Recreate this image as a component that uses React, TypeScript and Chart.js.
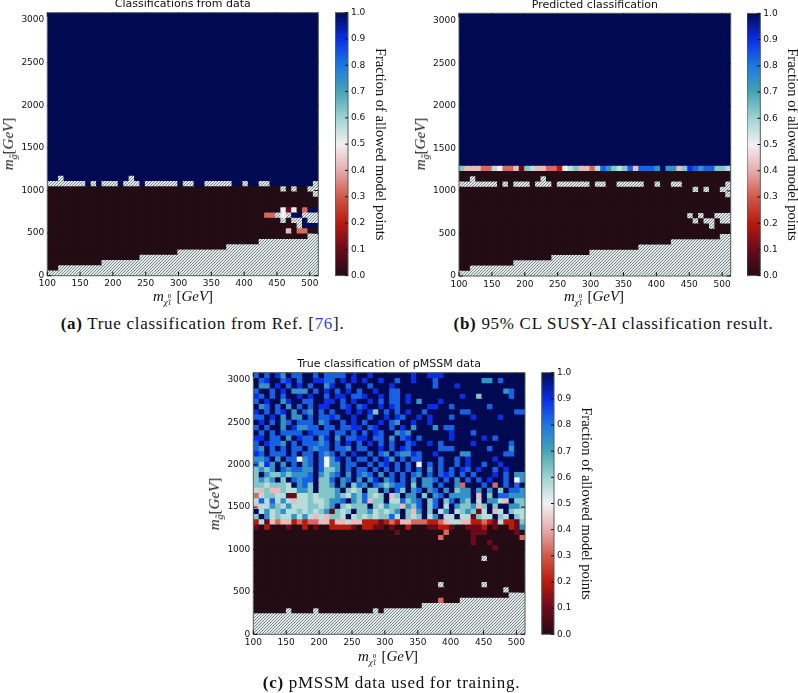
import React, { useEffect, useRef } from "react";
import { Chart, registerables } from "chart.js";

Chart.register(...registerables);

// ---- data: one string per row, bottom row first, 50 cells per row ----
// '.' = no model points (hatched); 0-9 = tenths of the allowed fraction; w = 0.5 (white); a = 1.0
const D = "0000000000";
const N = "aaaaaaaaaa";
const H = "..........";

const boundaryRows = [
  `${H}${H}${H}${H}${H}`,
  `00........${H}${H}${H}${H}`,
  `${D}${H}${H}${H}${H}`,
  `${D}0000000...${H}${H}${H}`,
  `${D}${D}0000......${H}${H}`,
  `${D}${D}${D}000.......${H}`,
  `${D}${D}${D}000000000.${H}`,
  `${D}${D}${D}${D}00000000..`,
];

const classifiedRows = [
  ...boundaryRows,
  `${D}${D}${D}${D}0000403300`,
  `${D}${D}${D}${D}000000.aaa`,
  `${D}${D}${D}${D}000.0..a..`,
  `${D}${D}${D}${D}33.w.aa...`,
  `${D}${D}${D}${D}000w1w03aa`,
  `${D}${D}${D}${D}${D}`,
  `${D}${D}${D}${D}${D}`,
  `${D}${D}${D}${D}000000000.`,
  `${D}${D}${D}${D}000.0.00..`,
  `.......a.a...a...a......a..aa.....aa.aa..aaaaaaaa.`,
  `aa.aaaaaaa${"aaaaa.aaaa"}${N}${N}${N}`,
  ...Array.from({ length: 31 }, () => `${N}${N}${N}${N}${N}`),
];

const predictedRows = [
  ...boundaryRows,
  `${D}${D}${D}${D}${D}`,
  `${D}${D}${D}${D}000000.000`,
  `${D}${D}${D}${D}000.0..0..`,
  `${D}${D}${D}${D}00.0.00...`,
  `${D}${D}${D}${D}${D}`,
  `${D}${D}${D}${D}${D}`,
  `${D}${D}${D}${D}${D}`,
  `${D}${D}${D}${D}000000000.`,
  `${D}${D}${D}${D}000.0.00..`,
  `.......0.0...0...0......0..00.....00.00..00000000.`,
  `00.0000000${"00000.0000"}${D}${D}${D}`,
  `${D}${D}${D}${D}${D}`,
  `6444335w33416544332w5644358765684888 7a774698788665`.replace(/ /g, ""),
  ...Array.from({ length: 29 }, () => `${N}${N}${N}${N}${N}`),
];

const trainingRows = [
  `${H}${H}${H}${H}${H}`,
  `${H}${H}${H}${H}${H}`,
  `${H}${H}${H}${H}${H}`,
  `${H}${H}${H}${H}${H}`,
  "000000.000 0.00000000 00.0...... .......... ..........",
  `${D}${D}${D}0.........${H}`,
  `${D}${D}${D}00003000..${H}`,
  `${D}${D}${D}${D}0000000...`,
  `${D}${D}${D}${D}000000.000`,
  `${D}${D}${D}0000.00000 00.0000000`,
  `${D}${D}${D}${D}${D}`,
  `${D}${D}${D}${D}${D}`,
  `${D}${D}${D}${D}${D}`,
  `${D}${D}${D}${D}${D}`,
  `${D}${D}${D}${D}00.0000000`,
  `${D}${D}${D}${D}${D}`,
  `${D}${D}${D}${D}0000100000`,
  `${D}${D}${D}${D}1001000000`,
  `${D}${D}${D}0000300000 1000000003`,
  `${D}${D}0000001000 0000030000 1110000010`,
  "1020001002 0100222210 2211010020 0011221001 1120100217",
  "2514344232 3344244544 2221232443 3322345544 2232152216",
  "6a75655757 5454665a56 5656685a65 6a57a55a55 1655a65a65",
  "a575675565 65671656a6 6756567a64 7a6a57a567 615a45a655",
  "4557657555 66567a6566 6a65766476 8a68a5a766 746a6aa776",
  "5858575455 6556778a76 8466a55867 8a68a68a76 a5a7754a66",
  "3566551155 6566676576 8656a46a77 a6a78a7777 a4a6a88777",
  "5464465577 6a6667a656 a66a7a86a7 8a78a7a677 a7a7a6a887",
  "6656665a78 6a667a7a68 7a876788a6 a77a8aa73a aa8a3a8a8a",
  "6767a6a878 8a668a78a7 a79a78a8a7 a778a8a7a8 a8a9aa8aw7",
  "6a76676777 8a7678a7a8 78a7a8a8a8 7a8a898a8a 8aaa9a8a77",
  "6767a87887 7a8667a8a8 8a8a8a8a8a 8a7a8a8a98 a9aa8a9aaa",
  "8697a7a8a7 8a8w77a88a a8a89a8a8a wa8a8aa8a9 aa8aa9aaaa",
  "778a7a88w7 8a8w79a8a8 8a8a97a8a8 8aaa8aa8a9 aaaa9aaaaa",
  "98a888a8a8 8a878a8a9a a8a87a8779 8aa9aaaa77 aaaaaa88aa",
  "87a8a8a88a 8788a887a8 8aa9a8a98a aaaa888aaa aaa8aaa7aa",
  "8a9887a8a8 8878a8a9a8 a9a8a8aa89 aa9a8aaaaa 9aaaaaa8aa",
  "99a88a7a98 8a79a7a889 9a88a7a89a 8aaaaa9aaa aa9a8aaaaa",
  "a8a8a8888a 9888a88a8a 8a98aa787a aaaaaa9aaa 8aaaaaaaaa",
  "8a8aa7a977 88a88a8899 a89aa8a9a7 aaa7a88aaa aaaaaaaaaa",
  "a9a8a78a88 8a78aa8a9a 8aa9a87aa9 aa9aaaaaaa aaaaaaaaaa",
  "88a9a7a77a 8a8898aa9a a8aa9a98aa 9a9aaa8aaa 9aaaa9aaaa",
  "9a8a89a7a8 7a8a8aa9a9 a96a8a8a9a a8aaaaaa88 aaaaaaaa88",
  "a78a8a7a8a 8a99aa89a8 9aa9a98aaa aa99aa8aaa aaa8aaaaaa",
  "8a9aa79aa8 8aa99a8a9a a9a8a88a9a 7aaa9aaaaa aaaaaaaaaa",
  "98a8a8aa9a 9aa8a99a88 9aa9a88a9a aaaaaaaa9a a6aaaaa8aa",
  "8aa8a9a777 a8a9a8a9a8 aa9aa88aaa aaaaaaaaaa aaaaaa78aa",
  "a77a9a8a9a 8aa79aa8aa a8aaa9aaaa aaa8aaa9aa aaaaaaaaaa",
  "a89aa89a8a a9988a9a9a 9aa9aa8aa9 aaa8aaaaaa aa77a8aaaa",
  "8a8a97a88a a8a8888a9a a9aaaaaaa9 aa999aaaaa aaaaaaaaaa",
].map((r) => r.replace(/ /g, ""));

const cellLevels: Record<string, number> = {
  "0": 0, "1": 0.1, "2": 0.2, "3": 0.32, "4": 0.42, "5": 0.57, w: 0.5,
  "6": 0.63, "7": 0.74, "8": 0.83, "9": 0.9, a: 1,
};

const colorStops: [number, string][] = [
  [0.0, "#230c14"], [0.1, "#6a0a1c"], [0.2, "#b81a0c"], [0.3, "#d2584a"],
  [0.4, "#e4adad"], [0.5, "#f3eff3"], [0.6, "#9ed4d0"], [0.7, "#45a4b4"],
  [0.8, "#1c78e0"], [0.9, "#0a2ee6"], [1.0, "#000a52"],
];

const xTickValues = [100, 150, 200, 250, 300, 350, 400, 450, 500];
const yTickValues = [0, 500, 1000, 1500, 2000, 2500, 3000];
const barTickStep = 0.1;
const xFirst = 100;
const cellGeVX = 8.26;
const cellGeVY = 61.72;
const colCount = 50;
const rowCount = 50;

// ---- layout ----
const TICK_FONT = "'DejaVu Sans', sans-serif";
const SERIF = "'Liberation Serif', serif";

function hexToRgb(h: string) {
  return [1, 3, 5].map((i) => parseInt(h.slice(i, i + 2), 16));
}
function colormap(v: number) {
  for (let i = 1; i < colorStops.length; i++) {
    if (v <= colorStops[i][0]) {
      const [a, ca] = colorStops[i - 1];
      const [b, cb] = colorStops[i];
      const t = (v - a) / (b - a);
      const p = hexToRgb(ca), q = hexToRgb(cb);
      return `rgb(${p.map((x, k) => Math.round(x + (q[k] - x) * t)).join(",")})`;
    }
  }
  return colorStops[colorStops.length - 1][1];
}

function hatchPattern(): CanvasPattern {
  const c = document.createElement("canvas");
  c.width = 3;
  c.height = 3;
  const g = c.getContext("2d")!;
  g.fillStyle = "#e4e9e9";
  g.fillRect(0, 0, 3, 3);
  g.fillStyle = "#78888c";
  for (let i = 0; i < 3; i++) g.fillRect(i, 2 - i, 1, 1);
  return g.createPattern(c, "repeat")!;
}

const FRAME = "#505a5c";

function framePlugin(sides: { x: boolean; left: boolean; right: boolean }, len: number) {
  return {
    id: "frameTicks",
    afterDatasetsDraw(chart: any) {
      const { ctx, chartArea: a, scales } = chart;
      ctx.save();
      ctx.strokeStyle = FRAME;
      ctx.lineWidth = 1;
      ctx.strokeRect(a.left, a.top, a.right - a.left, a.bottom - a.top);
      ctx.strokeStyle = "#111";
      ctx.beginPath();
      if (sides.x) {
        for (const t of scales.x.ticks) {
          const p = scales.x.getPixelForValue(t.value);
          ctx.moveTo(p, a.bottom);
          ctx.lineTo(p, a.bottom - len);
          ctx.moveTo(p, a.top);
          ctx.lineTo(p, a.top + len);
        }
      }
      for (const t of scales.y.ticks) {
        const p = scales.y.getPixelForValue(t.value);
        if (sides.left) {
          ctx.moveTo(a.left, p);
          ctx.lineTo(a.left + len, p);
        }
        if (sides.right) {
          ctx.moveTo(a.right, p);
          ctx.lineTo(a.right - len, p);
        }
      }
      ctx.stroke();
      ctx.restore();
    },
  };
}

type PanelProps = {
  title: string;
  rows: string[];
  plot: { l: number; t: number; r: number; b: number };
  bar: { l: number; r: number };
};

const HEAT_LEFT = 48;
const HEAT_TOP = 14;
const HEAT_RIGHT = 12;
const HEAT_BOTTOM = 16;
const BAR_OUT = 8;
const BAR_RIGHT = 40.5;
const TITLE_SIZE = 11;

function Panel({ title, rows, plot, bar }: PanelProps) {
  const heatRef = useRef<HTMLCanvasElement>(null);
  const barRef = useRef<HTMLCanvasElement>(null);

  const x0 = Math.floor(plot.l - HEAT_LEFT);
  const y0 = Math.floor(plot.t - HEAT_TOP);
  const w = Math.ceil(plot.r - x0 + HEAT_RIGHT);
  const h = Math.ceil(plot.b - y0 + HEAT_BOTTOM);

  const bx0 = Math.floor(bar.l);
  const by0 = Math.floor(plot.t - BAR_OUT);
  const bw = Math.ceil(bar.r - bx0 + BAR_RIGHT);
  const bh = Math.ceil(plot.b - by0 + BAR_OUT);

  useEffect(() => {
    const pattern = hatchPattern();
    const data: any[] = [];
    const colors: any[] = [];
    // Each cell reaches about 1.2px past its right and upper edge and is overdrawn by its
    // neighbour, so anti-aliased cell edges cannot let the white page through.
    const pxPerGeVX = (plot.r - plot.l) / (colCount * cellGeVX);
    const pxPerGeVY = (plot.b - plot.t) / (rowCount * cellGeVY);
    const overlapPx = 1.2;
    const xShift = overlapPx / 2 / pxPerGeVX;
    const yExtra = overlapPx / pxPerGeVY;
    for (let r = 0; r < rowCount; r++) {
      for (let c = 0; c < colCount; c++) {
        const ch = rows[r][c] ?? ".";
        data.push({
          x: xFirst + (c + 0.5) * cellGeVX + xShift,
          y: [r * cellGeVY, (r + 1) * cellGeVY + yExtra],
        });
        colors.push(ch === "." ? pattern : colormap(cellLevels[ch]));
      }
    }
    const barScale = ((plot.r - plot.l) / colCount + overlapPx) / ((plot.r - plot.l) / colCount);
    const titleLine = TITLE_SIZE * 1.2;
    const heat = new Chart(heatRef.current!, {
      type: "bar",
      data: { datasets: [{ data, backgroundColor: colors, borderWidth: 0, barPercentage: barScale, categoryPercentage: 1, grouped: false, inflateAmount: 0 } as any] },
      plugins: [framePlugin({ x: true, left: true, right: true }, 4) as any],
      options: {
        animation: false,
        responsive: false,
        events: [],
        layout: { padding: { left: 0, top: 0, right: x0 + w - plot.r, bottom: 0 } },
        plugins: {
          legend: { display: false },
          tooltip: { enabled: false },
          title: {
            display: true,
            text: title,
            fullSize: false,
            color: "#111",
            font: { family: TICK_FONT, size: TITLE_SIZE, weight: "normal", lineHeight: 1.2 },
            padding: { top: 0, bottom: plot.t - y0 - titleLine },
          } as any,
        },
        scales: {
          x: {
            type: "linear",
            offset: false,
            min: xFirst,
            max: xFirst + colCount * cellGeVX,
            grid: { display: false, drawTicks: false },
            border: { display: false },
            afterBuildTicks: (s: any) => { s.ticks = xTickValues.map((value) => ({ value })); },
            afterFit: (s: any) => { s.height = y0 + h - plot.b; },
            ticks: { autoSkip: false, maxRotation: 0, padding: 3, color: "#111", font: { family: TICK_FONT, size: 9 }, callback: (v: any) => String(v) },
          },
          y: {
            type: "linear",
            min: 0,
            max: rowCount * cellGeVY,
            grid: { display: false, drawTicks: false },
            border: { display: false },
            afterBuildTicks: (s: any) => { s.ticks = yTickValues.map((value) => ({ value })); },
            afterFit: (s: any) => { s.width = plot.l - x0; },
            ticks: { autoSkip: false, padding: 3, color: "#111", font: { family: TICK_FONT, size: 9 }, callback: (v: any) => String(v) },
          },
        },
      } as any,
    });

    const cb = new Chart(barRef.current!, {
      type: "bar",
      data: {
        labels: ["fraction"],
        datasets: [{
          data: [[0, 1]],
          barPercentage: 1,
          categoryPercentage: 1,
          borderWidth: 0,
          backgroundColor: (ctx: any) => {
            const a = ctx.chart.chartArea;
            if (!a) return colorStops[0][1];
            const g = ctx.chart.ctx.createLinearGradient(0, a.bottom, 0, a.top);
            colorStops.forEach(([p, col]) => g.addColorStop(p, col));
            return g;
          },
        } as any],
      },
      plugins: [framePlugin({ x: false, left: false, right: true }, 3) as any],
      options: {
        animation: false,
        responsive: false,
        events: [],
        layout: { padding: { left: bar.l - bx0, top: plot.t - by0, right: 0, bottom: by0 + bh - plot.b } },
        plugins: { legend: { display: false }, tooltip: { enabled: false } },
        scales: {
          x: { type: "category", display: false, offset: true },
          y: {
            type: "linear",
            position: "right",
            min: 0,
            max: 1,
            grid: { display: false, drawTicks: false },
            border: { display: false },
            afterFit: (s: any) => { s.width = bw - (bar.r - bx0); },
            title: {
              display: true,
              text: "Fraction of allowed model points",
              color: "#111",
              padding: 0,
              font: { family: SERIF, size: 14.5, lineHeight: 1.2 },
            },
            ticks: { stepSize: barTickStep, autoSkip: false, padding: 3, color: "#111", font: { family: TICK_FONT, size: 9 }, callback: (v: any) => Number(v).toFixed(1) },
          },
        },
      } as any,
    });
    return () => { heat.destroy(); cb.destroy(); };
  }, []);

  return (
    <>
      <canvas ref={heatRef} width={w} height={h} style={{ position: "absolute", left: x0, top: y0, width: w, height: h }} />
      <canvas ref={barRef} width={bw} height={bh} style={{ position: "absolute", left: bx0, top: by0, width: bw, height: bh }} />
    </>
  );
}

const mathBase: React.CSSProperties = { position: "absolute", fontFamily: SERIF, fontSize: 15, color: "#111", whiteSpace: "nowrap", lineHeight: "18px" };
const smallSub: React.CSSProperties = { fontSize: 10, fontStyle: "italic", position: "relative", top: 4 };

function GluinoLabel({ cx, cy }: { cx: number; cy: number }) {
  return (
    <div style={{ ...mathBase, left: cx, top: cy, transform: "translate(-50%,-50%) rotate(-90deg)" }}>
      <i>m</i><span style={smallSub}>{"g\u0303"}</span>[<i>GeV</i>]
    </div>
  );
}

function NeutralinoLabel({ cx, cy }: { cx: number; cy: number }) {
  return (
    <div style={{ ...mathBase, left: cx, top: cy, transform: "translate(-50%,-50%)" }}>
      <i>m</i>
      <span style={{ ...smallSub, fontSize: 9, top: 4 }}>{"\u03c7\u0303"}</span>
      <span style={{ display: "inline-block", position: "relative", width: 5, height: 14, verticalAlign: "middle" }}>
        <span style={{ position: "absolute", left: 0, top: 1, fontSize: 7, lineHeight: "8px" }}>0</span>
        <span style={{ position: "absolute", left: 0, top: 8, fontSize: 7, lineHeight: "8px" }}>1</span>
      </span>
      {" "}[<i>GeV</i>]
    </div>
  );
}

const capStyle: React.CSSProperties = { position: "absolute", fontFamily: SERIF, fontSize: 17, letterSpacing: 0.7, color: "#111", whiteSpace: "nowrap", transform: "translate(-50%,-50%)", lineHeight: "18px" };

export default function App() {
  return (
    <div style={{ position: "fixed", left: 0, top: 0, width: 798, height: 693, background: "#fff", overflow: "hidden", filter: "blur(0.35px)" }}>
      <Panel title="Classifications from data" rows={classifiedRows} plot={{ l: 47.3, t: 12.7, r: 318.3, b: 275.7 }} bar={{ l: 335.3, r: 348 }} />
      <Panel title="Predicted classification" rows={predictedRows} plot={{ l: 459, t: 13.3, r: 730.7, b: 276 }} bar={{ l: 747, r: 760.3 }} />
      <Panel title="True classification of pMSSM data" rows={trainingRows} plot={{ l: 253.3, t: 372.7, r: 525, b: 634.3 }} bar={{ l: 541.7, r: 554 }} />

      <GluinoLabel cx={9} cy={144} />
      <GluinoLabel cx={421} cy={144} />
      <GluinoLabel cx={215} cy={504} />
      <NeutralinoLabel cx={183} cy={297} />
      <NeutralinoLabel cx={594} cy={297} />
      <NeutralinoLabel cx={388} cy={657} />

      <div style={{ ...capStyle, left: 202.5, top: 324 }}><b>(a)</b> True classification from Ref. [<span style={{ color: "#3344cc" }}>76</span>].</div>
      <div style={{ ...capStyle, left: 613.5, top: 324 }}><b>(b)</b> 95% CL SUSY-AI classification result.</div>
      <div style={{ ...capStyle, left: 391.5, top: 683 }}><b>(c)</b> pMSSM data used for training.</div>
    </div>
  );
}
